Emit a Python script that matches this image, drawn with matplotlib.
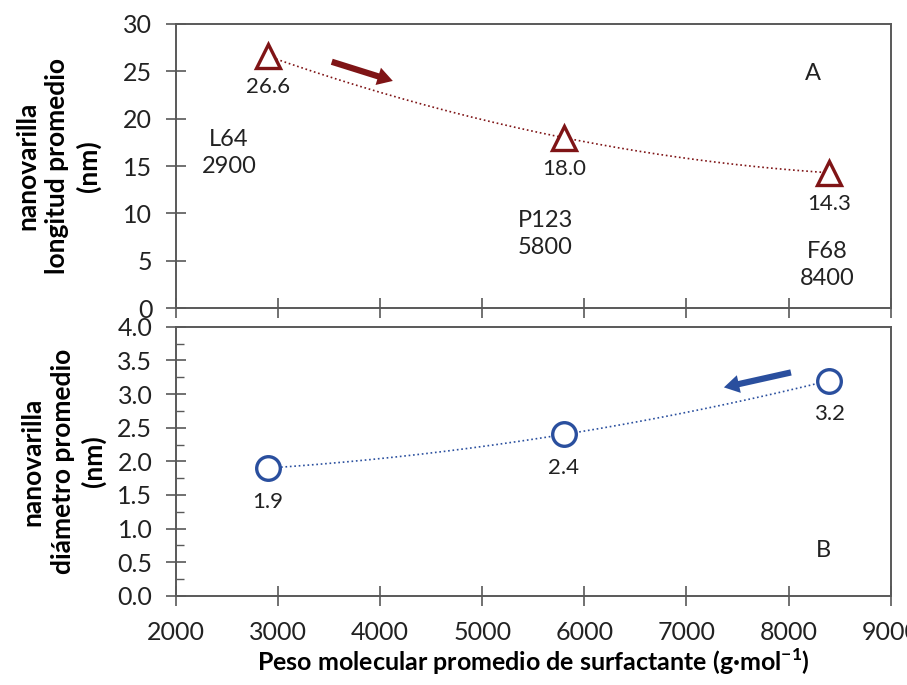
import numpy as np
import matplotlib.pyplot as plt
from matplotlib.ticker import MultipleLocator

plt.rcParams['font.family'] = ['Lato', 'DejaVu Sans']

# data
peso = [2900, 5800, 8400]
surfactantes = ["L64", "P123", "F68"]
longitud = [26.6, 18.0, 14.3]
diametro = [1.9, 2.4, 3.2]

RED = "#7f1416"
BLUE = "#2a4f9e"
SPINE = "#595959"
TXT = "#222222"

fig = plt.figure(figsize=(9.07, 6.85), dpi=100)
ax1 = fig.add_axes([0.194, 0.550, 0.788, 0.415])
ax2 = fig.add_axes([0.194, 0.130, 0.788, 0.393])

def style(ax):
    for s in ax.spines.values():
        s.set_color(SPINE)
        s.set_linewidth(1.4)
    ax.tick_params(which="major", direction="inout", length=14, width=1.2,
                   color=SPINE, labelsize=18, labelcolor=TXT)
    ax.tick_params(axis="y", which="major", pad=10)
    ax.tick_params(axis="x", which="major", pad=11)
    ax.tick_params(which="minor", direction="in", length=6, width=1.0, color=SPINE)
    ax.set_xlim(2000, 9000)
    ax.xaxis.set_major_locator(MultipleLocator(1000))

# trendlines (2nd order polynomial through the points)
xs = np.linspace(peso[0], peso[-1], 200)
arrow = "simple,head_length=1.1,head_width=1.3,tail_width=0.45"

style(ax1)
ax1.set_ylim(0, 30)
ax1.yaxis.set_major_locator(MultipleLocator(5))
ax1.tick_params(axis="x", labelbottom=False)
c1 = np.polyfit(peso, longitud, 2)
ax1.plot(xs, np.polyval(c1, xs), ls=":", lw=1.2, color=RED)
ax1.plot(peso, longitud, ls="none", marker="^", ms=17, mfc="white", mec=RED, mew=2.4)
for x, y in zip(peso, longitud):
    ax1.text(x, y - 3.3, f"{y:.1f}", ha="center", va="center", fontsize=16, color=TXT)
lab_pos = [(2520, 16.4), (5620, 7.8), (8383, 4.55)]
for name, x, (tx, ty) in zip(surfactantes, peso, lab_pos):
    ax1.text(tx, ty, f"{name}\n{x}", ha="center", va="center", fontsize=17,
             color=TXT, linespacing=1.35)
ax1.text(8236, 24.8, "A", ha="center", va="center", fontsize=17, color=TXT)
ax1.annotate("", xy=(4150, 23.9), xytext=(3500, 26.1),
             arrowprops=dict(arrowstyle=arrow, color=RED, lw=0))
ax1.set_ylabel("nanovarilla\nlongitud promedio\n(nm)", fontsize=19, fontweight="bold",
               labelpad=16, linespacing=1.3)

style(ax2)
ax2.set_ylim(0, 4)
ax2.yaxis.set_major_locator(MultipleLocator(0.5))
ax2.yaxis.set_minor_locator(MultipleLocator(0.25))
ax2.yaxis.set_major_formatter(plt.FormatStrFormatter("%.1f"))
c2 = np.polyfit(peso, diametro, 2)
ax2.plot(xs, np.polyval(c2, xs), ls=":", lw=1.2, color=BLUE)
ax2.plot(peso, diametro, ls="none", marker="o", ms=17, mfc="white", mec=BLUE, mew=2.4)
for x, y in zip(peso, diametro):
    ax2.text(x, y - 0.5, f"{y:.1f}", ha="center", va="center", fontsize=16, color=TXT)
ax2.text(8344, 0.67, "B", ha="center", va="center", fontsize=17, color=TXT)
ax2.annotate("", xy=(7340, 3.09), xytext=(8050, 3.33),
             arrowprops=dict(arrowstyle=arrow, color=BLUE, lw=0))
ax2.set_ylabel("nanovarilla\ndiámetro promedio\n(nm)", fontsize=19, fontweight="bold",
               labelpad=8, linespacing=1.3)
ax2.set_xlabel(r"Peso molecular promedio de surfactante (g·mol$^{\mathregular{-1}}$)",
               fontsize=18, fontweight="bold", va="center")
ax2.xaxis.set_label_coords(0.5, -0.245)

fig.align_ylabels([ax1, ax2])
fig.savefig("out.png", dpi=100, facecolor="white")
